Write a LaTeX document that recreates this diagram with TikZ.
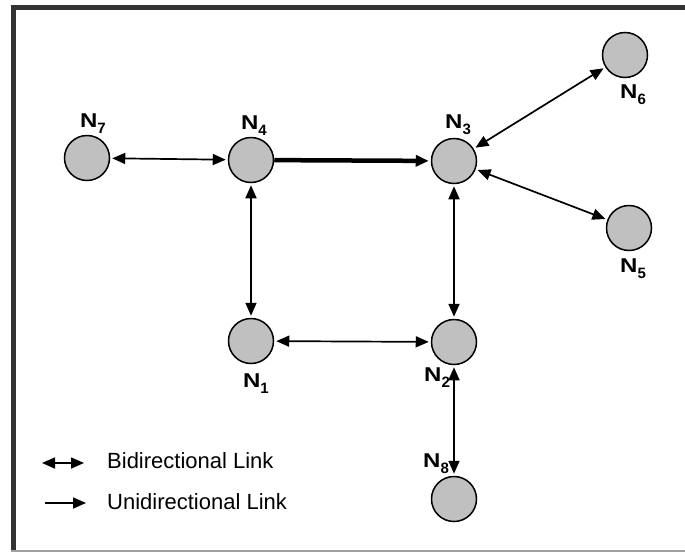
\documentclass[tikz,border=0pt]{standalone}
\usepackage{fontspec}
\setmainfont{Liberation Sans}
\usetikzlibrary{arrows.meta}
\newcommand{\nlab}[1]{\textbf{\scalebox{1.2}[1]{N}\raisebox{-0.3em}{\fontsize{15}{15}\selectfont #1}}}
\begin{document}
\begin{tikzpicture}[x=1pt,y=-1pt,
  nd/.style={circle,draw=black,line width=1.5pt,fill={rgb,255:red,192;green,192;blue,192},minimum size=45pt,inner sep=0pt},
  lab/.style={font=\fontsize{20}{20}\selectfont,inner sep=0pt},
  lnk/.style={line width=1.7pt,shorten >=2pt,shorten <=2pt},
  tip/.style={arrows={-{Triangle[length=13pt,width=11pt]}}},
  bi/.style={arrows={{Triangle[length=13pt,width=11pt]}-{Triangle[length=13pt,width=11pt]}}},
  leg/.style={font=\fontsize{22}{22}\selectfont,anchor=west,inner sep=0pt}]
\useasboundingbox (0,0) rectangle (685,552);
% frame
\draw[line width=5pt,color={rgb,255:red,51;green,51;blue,51}] (13.5,552) -- (13.5,7.5) -- (685,7.5);
\draw[line width=1.2pt,color={rgb,255:red,160;green,160;blue,160}] (11,551) -- (685,551);
% nodes
\node[nd] (n7) at (87,158) {};
\node[nd] (n4) at (251,160) {};
\node[nd] (n3) at (454,161) {};
\node[nd] (n6) at (625,55) {};
\node[nd] (n5) at (629,228) {};
\node[nd] (n1) at (251,341) {};
\node[nd] (n2) at (454,342) {};
\node[nd] (n8) at (454,499) {};
% labels
\node[lab] (l7) at (93,124) {\nlab{7}};
\node[lab] (l4) at (254,126) {\nlab{4}};
\node[lab] (l3) at (458,125) {\nlab{3}};
\node[lab] (l6) at (633,95) {\nlab{6}};
\node[lab] (l5) at (633,269) {\nlab{5}};
\node[lab] (l1) at (256,384) {\nlab{1}};
\node[lab] (l2) at (437,378) {\nlab{2}};
\node[lab] (l8) at (436,464) {\nlab{8}};
% links
\draw[lnk,bi] (n7) -- (n4);
\draw[line width=4.5pt,shorten >=2pt,arrows={-{Triangle[length=13pt,width=11pt]}}] (n4) -- (n3);
\draw[lnk,bi] (n4) -- (n1);
\draw[lnk,bi] (n3) -- (n2);
\draw[lnk,bi] (n1) -- (n2);
\draw[lnk,bi] (n3) -- (n6);
\draw[lnk,bi] (n3) -- (n5);
\draw[lnk,bi] (n2) -- (n8);
% legend
\coordinate (b1) at (42,463);
\coordinate (b2) at (84,463);
\coordinate (u1) at (45,503);
\coordinate (u2) at (86,503);
\draw[line width=1.6pt,bi] (b1) -- (b2);
\draw[line width=1.6pt,tip] (u1) -- (u2);
\node[leg] (t1) at (107,461) {Bidirectional Link};
\node[leg] (t2) at (107,502) {Unidirectional Link};
\end{tikzpicture}
\end{document}
